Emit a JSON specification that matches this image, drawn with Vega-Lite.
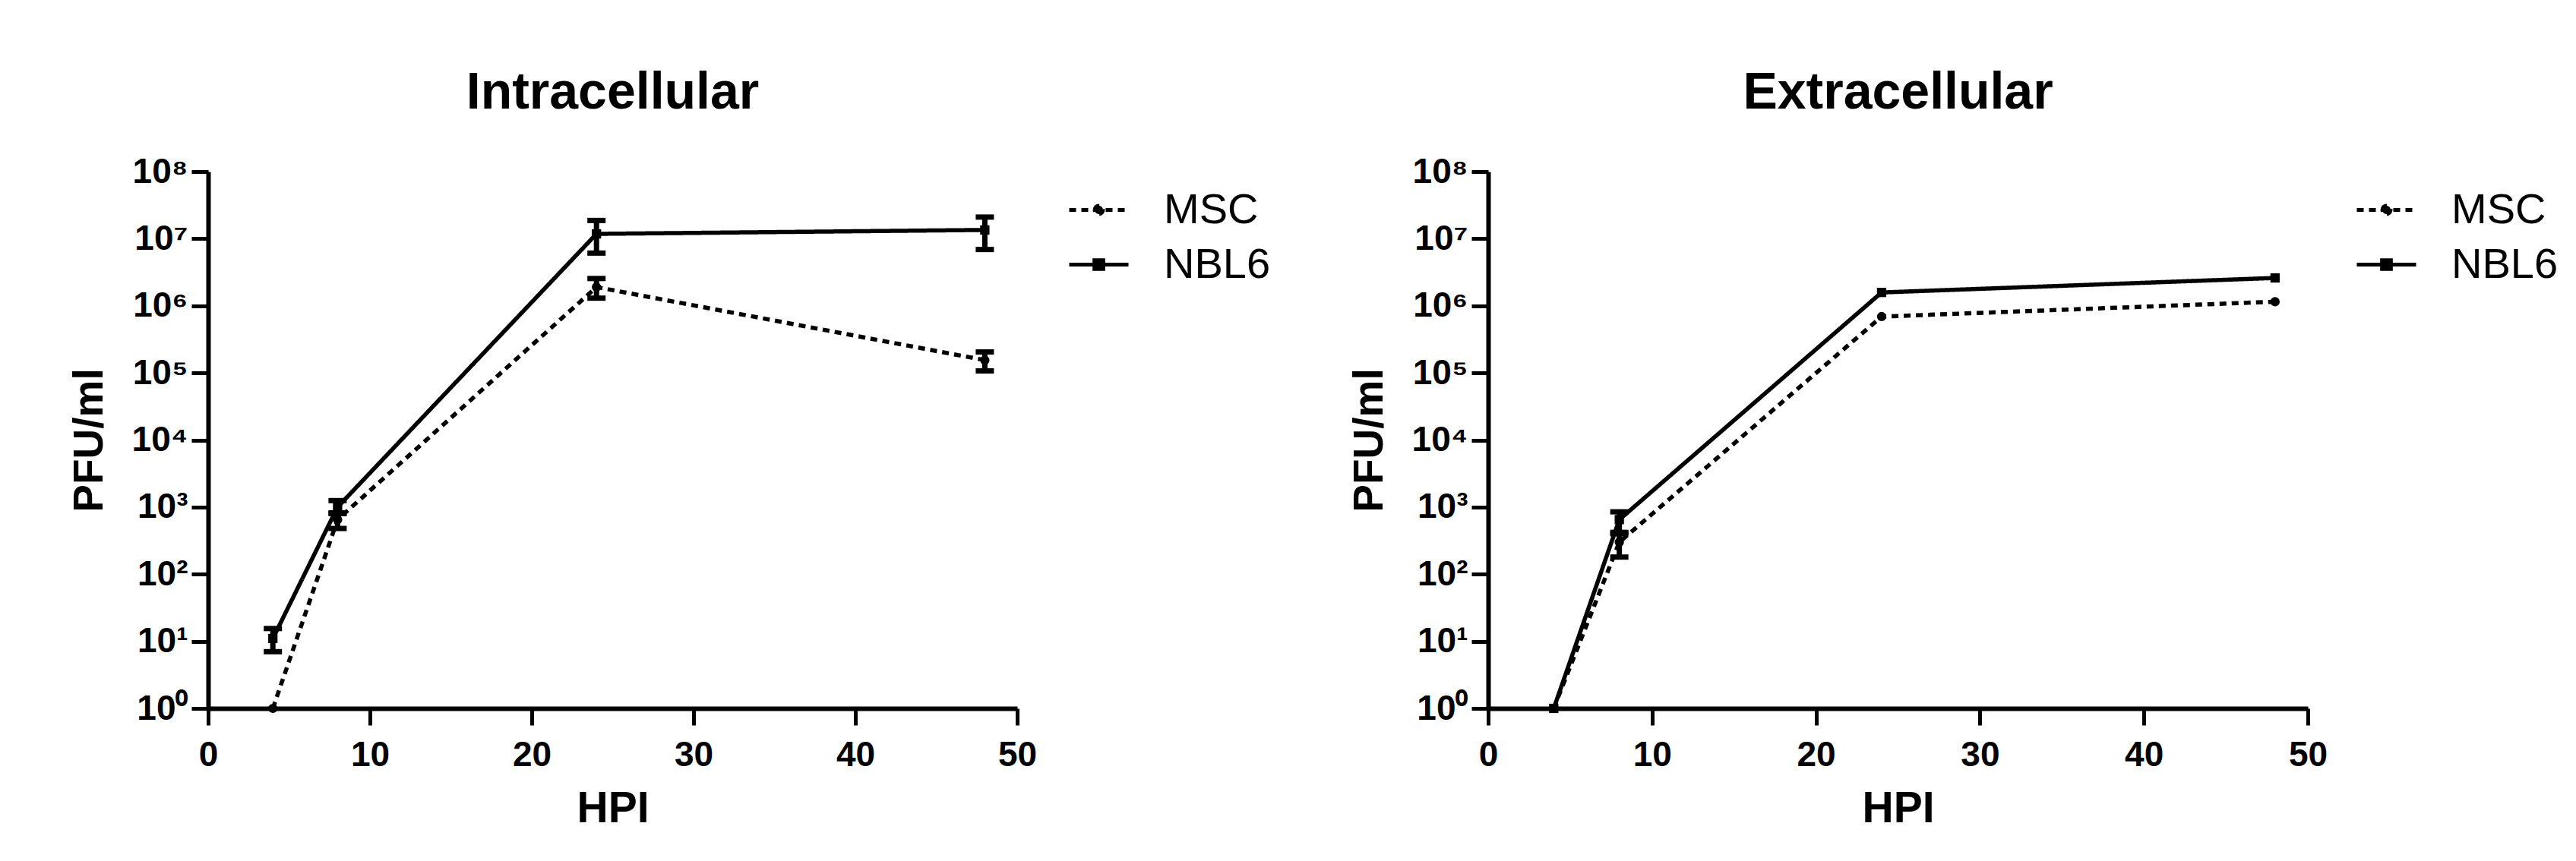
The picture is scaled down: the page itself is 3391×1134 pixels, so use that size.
{
  "$schema": "https://vega.github.io/schema/vega-lite/v6.json",
  "background": "white",
  "padding": {"left": 90, "top": 89, "right": 0, "bottom": 0},
  "autosize": {"type": "pad"},
  "bounds": "flush",
  "spacing": 620,
  "datasets": {
    "intra": [
      {"series": "MSC", "hpi": 4, "value": 1, "lo": null, "hi": null},
      {"series": "MSC", "hpi": 8, "value": 650, "lo": 480, "hi": 820},
      {"series": "MSC", "hpi": 24, "value": 1900000, "lo": 1300000, "hi": 2550000},
      {"series": "MSC", "hpi": 48, "value": 155000, "lo": 107000, "hi": 205000},
      {"series": "NBL6", "hpi": 4, "value": 11, "lo": 7, "hi": 15.5},
      {"series": "NBL6", "hpi": 8, "value": 1000, "lo": 800, "hi": 1250},
      {"series": "NBL6", "hpi": 24, "value": 11800000, "lo": 6100000, "hi": 18700000},
      {"series": "NBL6", "hpi": 48, "value": 13500000, "lo": 6900000, "hi": 21000000}
    ],
    "extra": [
      {"series": "MSC", "hpi": 4, "value": 1, "lo": null, "hi": null},
      {"series": "MSC", "hpi": 8, "value": 300, "lo": 180, "hi": 400},
      {"series": "MSC", "hpi": 24, "value": 690000, "lo": null, "hi": null},
      {"series": "MSC", "hpi": 48, "value": 1150000, "lo": null, "hi": null},
      {"series": "NBL6", "hpi": 4, "value": 1, "lo": null, "hi": null},
      {"series": "NBL6", "hpi": 8, "value": 650, "lo": 420, "hi": 850},
      {"series": "NBL6", "hpi": 24, "value": 1580000, "lo": null, "hi": null},
      {"series": "NBL6", "hpi": 48, "value": 2600000, "lo": null, "hi": null}
    ]
  },
  "config": {
    "font": "Liberation Sans",
    "view": {"stroke": null},
    "axis": {
      "grid": false,
      "domainColor": "black", "domainWidth": 6,
      "tickColor": "black", "tickWidth": 5, "tickSize": 22,
      "labelFont": "Liberation Sans", "labelFontWeight": "bold", "labelFontSize": 46, "labelColor": "black",
      "titleFont": "Liberation Sans", "titleFontWeight": "bold", "titleColor": "black"
    },
    "axisX": {"labelPadding": 17, "titleFontSize": 57, "titlePadding": 20, "labelFlush": false},
    "axisY": {"labelPadding": 5, "titleFontSize": 55, "titlePadding": 27},
    "title": {"font": "Liberation Sans", "fontSize": 68, "fontWeight": "bold", "color": "black", "anchor": "middle", "frame": "group", "offset": 46},
    "legend": {
      "orient": "none", "title": null, "padding": 0,
      "labelFont": "Liberation Sans", "labelFontSize": 56, "labelColor": "black", "labelFontWeight": "normal",
      "symbolSize": 6084, "symbolStrokeWidth": 5, "symbolStrokeColor": "black",
      "labelOffset": 44, "rowPadding": 2
    }
  },
  "resolve": {"scale": {"x": "independent", "y": "independent", "strokeDash": "independent"}},
  "hconcat": [
    {
      "title": "Intracellular",
      "width": 1065, "height": 707,
      "data": {"name": "intra"},
      "encoding": {
        "x": {"field": "hpi", "type": "quantitative", "scale": {"domain": [0, 50], "nice": false},
              "axis": {"values": [0, 10, 20, 30, 40, 50], "title": "HPI"}}
      },
      "layer": [
        {
          "mark": {"type": "line", "color": "black", "strokeWidth": 5.5},
          "encoding": {
            "y": {"field": "value", "type": "quantitative", "title": "PFU/ml",
                  "scale": {"type": "log", "domain": [1, 100000000], "nice": false},
                  "axis": {"values": [1, 10, 100, 1000, 10000, 100000, 1000000, 10000000, 100000000],
                           "labelExpr": "'10' + ['⁰','¹','²','³','⁴','⁵','⁶','⁷','⁸'][round(log(datum.value)/LN10)]"}},
            "strokeDash": {"field": "series", "type": "nominal",
                           "scale": {"domain": ["MSC", "NBL6"], "range": [[9, 7], [1, 0]]},
                           "legend": {"legendX": 1131, "legendY": 9,
                                      "encode": {"symbols": {"update": {
                                        "shape": {"signal": "datum.value === 'MSC' ? 'M-1,0H1M-0.14,0A0.14,0.14,0,1,1,0.14,0A0.14,0.14,0,1,1,-0.14,0Z' : 'M-1,0H1M-0.15,-0.15H0.15V0.15H-0.15Z'"},
                                        "fill": {"value": "black"}, "stroke": {"value": "black"}, "strokeWidth": {"value": 5}}}}}}
          }
        },
        {
          "transform": [{"filter": "datum.series === 'MSC'"}],
          "mark": {"type": "point", "filled": true, "color": "black", "size": 150, "opacity": 1, "shape": "circle"},
          "encoding": {"y": {"field": "value", "type": "quantitative", "title": "PFU/ml"}}
        },
        {
          "transform": [{"filter": "datum.series === 'NBL6'"}],
          "mark": {"type": "point", "filled": true, "color": "black", "size": 150, "opacity": 1, "shape": "square"},
          "encoding": {"y": {"field": "value", "type": "quantitative", "title": "PFU/ml"}}
        },
        {
          "transform": [{"filter": "datum.lo != null"}],
          "mark": {"type": "rule", "color": "black", "strokeWidth": 7},
          "encoding": {
            "y": {"field": "lo", "type": "quantitative", "title": "PFU/ml"},
            "y2": {"field": "hi"}
          }
        },
        {
          "transform": [{"filter": "datum.lo != null"}],
          "mark": {"type": "tick", "orient": "horizontal", "color": "black", "size": 24, "thickness": 7, "opacity": 1},
          "encoding": {"y": {"field": "lo", "type": "quantitative", "title": "PFU/ml"}}
        },
        {
          "transform": [{"filter": "datum.lo != null"}],
          "mark": {"type": "tick", "orient": "horizontal", "color": "black", "size": 24, "thickness": 7, "opacity": 1},
          "encoding": {"y": {"field": "hi", "type": "quantitative", "title": "PFU/ml"}}
        }
      ]
    },
    {
      "title": "Extracellular",
      "width": 1079, "height": 707,
      "data": {"name": "extra"},
      "encoding": {
        "x": {"field": "hpi", "type": "quantitative", "scale": {"domain": [0, 50], "nice": false},
              "axis": {"values": [0, 10, 20, 30, 40, 50], "title": "HPI"}}
      },
      "layer": [
        {
          "mark": {"type": "line", "color": "black", "strokeWidth": 5.5},
          "encoding": {
            "y": {"field": "value", "type": "quantitative", "title": "PFU/ml",
                  "scale": {"type": "log", "domain": [1, 100000000], "nice": false},
                  "axis": {"values": [1, 10, 100, 1000, 10000, 100000, 1000000, 10000000, 100000000],
                           "labelExpr": "'10' + ['⁰','¹','²','³','⁴','⁵','⁶','⁷','⁸'][round(log(datum.value)/LN10)]"}},
            "strokeDash": {"field": "series", "type": "nominal",
                           "scale": {"domain": ["MSC", "NBL6"], "range": [[9, 7], [1, 0]]},
                           "legend": {"legendX": 1141, "legendY": 9,
                                      "encode": {"symbols": {"update": {
                                        "shape": {"signal": "datum.value === 'MSC' ? 'M-1,0H1M-0.14,0A0.14,0.14,0,1,1,0.14,0A0.14,0.14,0,1,1,-0.14,0Z' : 'M-1,0H1M-0.15,-0.15H0.15V0.15H-0.15Z'"},
                                        "fill": {"value": "black"}, "stroke": {"value": "black"}, "strokeWidth": {"value": 5}}}}}}
          }
        },
        {
          "transform": [{"filter": "datum.series === 'MSC'"}],
          "mark": {"type": "point", "filled": true, "color": "black", "size": 150, "opacity": 1, "shape": "circle"},
          "encoding": {"y": {"field": "value", "type": "quantitative", "title": "PFU/ml"}}
        },
        {
          "transform": [{"filter": "datum.series === 'NBL6'"}],
          "mark": {"type": "point", "filled": true, "color": "black", "size": 150, "opacity": 1, "shape": "square"},
          "encoding": {"y": {"field": "value", "type": "quantitative", "title": "PFU/ml"}}
        },
        {
          "transform": [{"filter": "datum.lo != null"}],
          "mark": {"type": "rule", "color": "black", "strokeWidth": 7},
          "encoding": {
            "y": {"field": "lo", "type": "quantitative", "title": "PFU/ml"},
            "y2": {"field": "hi"}
          }
        },
        {
          "transform": [{"filter": "datum.lo != null"}],
          "mark": {"type": "tick", "orient": "horizontal", "color": "black", "size": 24, "thickness": 7, "opacity": 1},
          "encoding": {"y": {"field": "lo", "type": "quantitative", "title": "PFU/ml"}}
        },
        {
          "transform": [{"filter": "datum.lo != null"}],
          "mark": {"type": "tick", "orient": "horizontal", "color": "black", "size": 24, "thickness": 7, "opacity": 1},
          "encoding": {"y": {"field": "hi", "type": "quantitative", "title": "PFU/ml"}}
        }
      ]
    }
  ]
}
